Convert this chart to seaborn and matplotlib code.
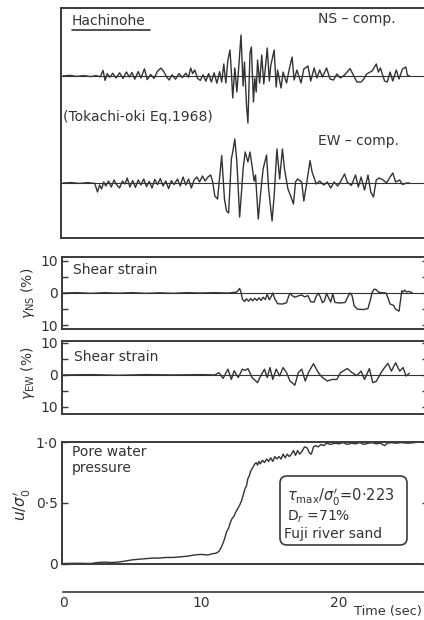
import numpy as np
import matplotlib
matplotlib.use("Agg")
import matplotlib.pyplot as plt
import seaborn as sns
from matplotlib.lines import Line2D
from matplotlib.patches import FancyBboxPatch
from matplotlib.transforms import IdentityTransform

# ---------------- data ----------------
# Hachinohe record, Tokachi-oki earthquake 1968 (acceleration, gal)
ns_t = [0.0, 0.5, 1.0, 1.5, 2.0, 2.4, 2.7, 2.9, 3.05, 3.2, 3.4, 3.6, 3.85, 4.1, 4.35, 4.6,
        4.8, 5.0, 5.2, 5.45, 5.65, 5.9, 6.1, 6.35, 6.6, 6.85, 7.1, 7.3, 7.5, 7.7, 7.9, 8.15,
        8.4, 8.65, 8.9, 9.1, 9.25, 9.4, 9.55, 9.75, 9.95, 10.15, 10.35, 10.55, 10.75, 10.95,
        11.15, 11.35, 11.5, 11.65, 11.8, 11.95, 12.1, 12.2, 12.3, 12.45, 12.6, 12.75, 12.9,
        13.05, 13.15, 13.3, 13.4, 13.55, 13.65, 13.8, 13.9, 14.0, 14.1, 14.25, 14.4, 14.55,
        14.8, 14.95, 15.05, 15.3, 15.45, 15.55, 15.8, 15.95, 16.2, 16.4, 16.6, 16.75, 16.95,
        17.25, 17.45, 17.75, 17.95, 18.2, 18.4, 18.6, 18.8, 19.1, 19.35, 19.6, 19.85, 20.1,
        20.4, 20.8, 21.0, 21.3, 21.6, 21.8, 22.0, 22.4, 22.7, 22.85, 23.0, 23.3, 23.5, 23.7,
        23.9, 24.15, 24.35, 24.6, 24.85, 24.95, 25.1]
ns_acc = [0, 3, -2, 2, -3, 2, -4, 28, -22, 12, -6, 14, -10, 16, -12, 20,
          -5, 18, -16, 22, -10, 36, -18, 8, -12, 24, 40, 22, -4, -20, 6, -16,
          12, -8, 14, -6, 40, 12, 30, -12, -22, 6, -26, 12, -30, 16,
          -36, 22, -30, 60, -35, 80, 130, 20, -110, 40, -80, 60, 205,
          -50, 70, -150, -235, 115, 145, -130, -10, -80, 80, -35, 105, -40,
          140, -25, 50, 130, -55, 30, -60, 20, -35, 35, 95, -20, 30,
          -35, 35, 50, -25, 40, -10, 30, -5, 40, -15, -20, 10, -10,
          5, 37, 10, -30, -30, -15, 10, 25, 60, 20, 40, -25, -30, 20,
          -25, 30, -15, 35, 45, 5, 0]

ew_t = [0.0, 0.6, 1.2, 1.8, 2.3, 2.5, 2.65, 2.8, 2.95, 3.1, 3.3, 3.5, 3.7, 3.9, 4.1, 4.3,
        4.5, 4.65, 4.85, 5.05, 5.25, 5.45, 5.65, 5.85, 6.05, 6.25, 6.45, 6.65, 6.85, 7.05,
        7.25, 7.45, 7.65, 7.85, 8.05, 8.3, 8.5, 8.7, 8.9, 9.1, 9.3, 9.5, 9.7, 9.9, 10.1,
        10.3, 10.5, 10.7, 10.85, 11.0, 11.2, 11.5, 11.7, 11.85, 12.0, 12.2, 12.3, 12.45,
        12.6, 12.8, 12.95, 13.05, 13.2, 13.4, 13.55, 13.7, 13.85, 13.95, 14.15, 14.3, 14.5,
        14.75, 14.9, 15.15, 15.3, 15.5, 15.7, 15.9, 16.05, 16.3, 16.5, 16.7, 16.85, 17.0,
        17.3, 17.45, 17.65, 17.9, 18.05, 18.35, 18.6, 18.9, 19.15, 19.4, 19.65, 19.9, 20.1,
        20.4, 20.6, 20.9, 21.2, 21.4, 21.6, 21.85, 22.1, 22.3, 22.5, 22.7, 22.9, 23.2,
        23.45, 23.7, 23.9, 24.1, 24.4, 24.6, 24.9, 25.1]
ew_acc = [0, 2, -2, 2, -2, -45, -10, -30, 5, -15, 10, -20, 15, -10, -25, 10,
          -5, 25, -20, 12, -22, 15, -10, 20, -18, 8, -25, 18, -8, 22,
          -15, 10, -28, 12, -8, 20, -15, 30, -10, 20, -25, 15, 30, 5, 35,
          10, 30, 40, 5, -65, -80, 137, -80, -140, -150, 120, 155, 220,
          105, -170, -30, 70, 155, 105, 155, 85, 10, 40, -180, -65, 70,
          140, -30, -190, -65, 170, 20, 170, 70, -30, -65, -105, 5, 20,
          5, -90, -5, 112, 55, -5, 10, -10, 5, -25, 5, -15, 5,
          45, 5, -12, 40, -20, 30, -35, 40, -45, -70, 15, 25, 15,
          0, 30, 50, 5, 15, -8, 0, 0]

# Shear strain, NS and EW (%)
gns_t = [0.0, 1.0, 2.0, 3.0, 4.0, 5.0, 6.0, 7.0, 8.0, 9.0, 10.0, 11.0, 12.0, 12.6, 12.8,
         12.9, 13.0, 13.15, 13.3, 13.45, 13.6, 13.75, 13.9, 14.05, 14.2, 14.35, 14.5, 14.65,
         14.8, 14.95, 15.1, 15.2, 15.35, 15.55, 15.9, 16.2, 16.35, 16.45, 16.6, 16.8, 17.05,
         17.3, 17.5, 17.75, 17.95, 18.2, 18.35, 18.5, 18.65, 18.8, 18.95, 19.1, 19.25, 19.4,
         19.55, 19.7, 20.1, 20.45, 20.65, 20.8, 20.95, 21.1, 21.35, 21.8, 22.1, 22.25, 22.4,
         22.55, 22.7, 22.85, 23.1, 23.4, 23.55, 23.7, 23.95, 24.1, 24.35, 24.45, 24.55,
         24.65, 24.75, 24.9, 25.05, 25.3]
gns = [0.0, 0.1, -0.1, 0.1, -0.05, 0.1, -0.1, 0.05, -0.1, 0.1, 0.0, 0.1, 0.0, 0.3, 1.4,
       0.2, -1.9, -2.6, -1.8, -2.5, -1.7, -2.4, -1.6, -2.3, -1.5, -2.3, -1.3, -2.0,
       -0.4, -2.1, -1.0, 0.0, -1.8, -3.3, -3.4, -3.0, -1.0, -0.1, -0.8, -1.3, -0.9,
       -0.6, -1.2, -0.8, -2.7, -2.8, -1.0, -0.1, -1.2, -3.0, -2.4, -0.1, -1.5, -2.8,
       -0.2, -2.9, -3.1, -2.9, -1.0, 0.0, -0.8, -4.0, -5.0, -5.1, -4.8, -2.5, 0.2,
       1.2, 1.0, 0.3, 0.1, 0.0, -1.5, -3.4, -3.8, -5.0, -5.6, -2.5, 0.7,
       0.3, 0.9, 0.3, 0.5, 0.1]

gew_t = [0.0, 2.0, 4.0, 6.0, 8.0, 10.0, 11.0, 11.3, 11.6, 11.95, 12.2, 12.4, 12.7, 13.0,
         13.2, 13.4, 13.7, 14.1, 14.3, 14.6, 14.8, 15.0, 15.2, 15.45, 15.7, 15.95, 16.2,
         16.45, 16.8, 17.05, 17.3, 17.55, 17.8, 18.15, 18.5, 18.8, 19.15, 19.5, 19.85,
         20.1, 20.6, 20.95, 21.3, 21.6, 21.85, 22.2, 22.45, 22.7, 23.05, 23.3, 23.55,
         23.8, 24.1, 24.4, 24.65, 24.85, 25.1]
gew = [0.0, 0.1, -0.1, 0.1, 0.0, 0.1, 0.0, 0.7, -1.1, 1.8, -1.4, 1.3, -0.8, 1.8,
       1.4, 2.0, -0.8, -2.4, -0.5, 1.8, -0.8, 2.3, -1.4, 1.8, -0.3, 2.3, 0.7,
       -1.9, -3.2, 0.7, 1.8, -1.9, 0.9, 3.5, 0.7, -0.8, -1.9, -1.4, -1.4,
       0.7, 2.0, 0.7, -0.2, 1.2, -1.4, 2.0, -2.4, -2.0, 0.7, 2.3, 3.6,
       1.2, 3.8, 1.2, 2.3, -0.3, 0.5]

# Excess pore water pressure ratio u / sigma0'
pwp_t = [0.0, 1.0, 2.0, 2.5, 3.0, 3.5, 4.0, 4.5, 5.0, 5.5, 6.0, 6.5, 7.0, 7.5, 8.0, 8.5,
         9.0, 9.5, 10.0, 10.5, 10.8, 11.1, 11.3, 11.5, 11.7, 11.85, 12.0, 12.1, 12.25,
         12.4, 12.5, 12.65, 12.8, 12.95, 13.1, 13.2, 13.3, 13.4, 13.5, 13.6, 13.7, 13.8,
         13.9, 14.0, 14.1, 14.2, 14.3, 14.45, 14.6, 14.75, 14.9, 15.05, 15.2, 15.35, 15.5,
         15.65, 15.8, 15.95, 16.1, 16.25, 16.4, 16.55, 16.7, 16.85, 17.0, 17.15, 17.3,
         17.5, 17.7, 17.85, 18.0, 18.15, 18.3, 18.5, 18.7, 18.9, 19.1, 19.4, 19.7, 20.0,
         20.3, 20.6, 20.9, 21.2, 21.5, 21.8, 22.1, 22.4, 22.7, 23.0, 23.3, 23.5, 23.8,
         24.1, 24.5, 25.0, 25.5]
pwp = [0.0, 0.002, 0.0, 0.008, 0.012, 0.008, 0.012, 0.02, 0.03, 0.035, 0.04, 0.045,
       0.045, 0.05, 0.05, 0.055, 0.06, 0.07, 0.075, 0.07, 0.08, 0.085, 0.10, 0.14,
       0.20, 0.26, 0.29, 0.33, 0.37, 0.39, 0.42, 0.45, 0.48, 0.52, 0.58, 0.62, 0.64,
       0.70, 0.72, 0.76, 0.78, 0.80, 0.82, 0.83, 0.81, 0.84, 0.82, 0.85, 0.83, 0.86,
       0.84, 0.87, 0.84, 0.88, 0.86, 0.88, 0.86, 0.90, 0.87, 0.90, 0.88, 0.90, 0.93,
       0.89, 0.93, 0.90, 0.92, 0.96, 0.95, 0.91, 0.90, 0.96, 0.97, 0.96, 0.98, 0.97,
       0.99, 0.98, 0.99, 0.985, 0.995, 0.98, 0.99, 0.985, 0.995, 0.98, 0.99, 0.995,
       0.985, 0.99, 0.97, 0.99, 0.995, 0.99, 0.995, 0.99, 0.995]

time_ticks = [0, 10, 20]
shear_ticks = [-10, 0, 10]
shear_ticklabels = ["10", "0", "10"]
pwp_ticks = [0.0, 0.5, 1.0]
pwp_ticklabels = ["0", "0·5", "1·0"]

# ---------------- style ----------------
sns.set_style("white")
plt.rcParams["font.family"] = ["DejaVu Sans"]
plt.rcParams["mathtext.fontset"] = "dejavusans"

INK = "#333333"
FRAME = "#3a3a3a"
W, H = 424, 620
PX_PER_S = 13.8          # time scale of the sheet
T0_PX = 63               # x position of t = 0
RIGHT_PX = 428           # panels run off the right edge of the sheet

fig = plt.figure(figsize=(W / 100, H / 100), dpi=100)
fig.patch.set_facecolor("white")


def panel(x0, y0, x1, y1):
    ax = fig.add_axes([x0 / W, 1 - y1 / H, (x1 - x0) / W, (y1 - y0) / H])
    ax.set_xlim((x0 - T0_PX) / PX_PER_S, (x1 - T0_PX) / PX_PER_S)
    for s in ax.spines.values():
        s.set_color(FRAME)
        s.set_linewidth(1.4)
    ax.set_facecolor("none")
    return ax


def ftext(x, y, s, **kw):
    kw.setdefault("fontsize", 10)
    kw.setdefault("color", INK)
    kw.setdefault("va", "center")
    kw.setdefault("ha", "left")
    fig.text(x / W, 1 - y / H, s, **kw)


line_kw = dict(color=INK, linewidth=1.0, estimator=None, sort=False, legend=False)

# ---- acceleration records ----
ax_acc = panel(61, 8, RIGHT_PX, 238)
ax_acc.set_ylim(0, 1150)
ns_base, ew_base = 810, 275
for base, t, a in ((ns_base, ns_t, ns_acc), (ew_base, ew_t, ew_acc)):
    ax_acc.axhline(base, color=INK, linewidth=0.8)
    sns.lineplot(x=t, y=np.asarray(a) + base, ax=ax_acc, **line_kw)
ax_acc.set_xticks([])
ax_acc.set_yticks([])
ax_acc.set_xlabel("")
ax_acc.set_ylabel("")


def strain_panel(y0, y1, ylim, t, g):
    ax = panel(62, y0, RIGHT_PX, y1)
    ax.axhline(0, color=INK, linewidth=0.8)
    sns.lineplot(x=t, y=g, ax=ax, **line_kw)
    ax.set_ylim(*ylim)
    ax.set_xticks([])
    ax.set_yticks(shear_ticks)
    ax.set_yticklabels(shear_ticklabels)
    ax.set_yticks([-5, 5], minor=True)
    ax.tick_params(axis="y", which="both", direction="in", left=True, right=True,
                   length=4, width=1.0, color=FRAME, labelsize=10, labelcolor=INK, pad=3)
    ax.set_xlabel("")
    ax.set_ylabel("")
    return ax


strain_panel(257, 329, (-11.1, 11.1), gns_t, gns)
strain_panel(341, 414, (-12.2, 10.6), gew_t, gew)

# ---- pore water pressure ----
ax_p = panel(62, 442, RIGHT_PX, 564)
sns.lineplot(x=pwp_t, y=pwp, ax=ax_p, **line_kw)
ax_p.set_ylim(-0.004, 1.0)
ax_p.set_xticks([])
ax_p.set_yticks(pwp_ticks)
ax_p.set_yticklabels(pwp_ticklabels)
ax_p.tick_params(axis="y", direction="in", left=True, right=True, length=4, width=1.0,
                 color=FRAME, labelsize=10, labelcolor=INK, pad=3)
ax_p.set_xlabel("")
ax_p.set_ylabel("")

# ---- time axis ----
ax_t = fig.add_axes([T0_PX / W, 1 - 592 / H, (RIGHT_PX - T0_PX) / W, 10 / H])
ax_t.set_xlim(0, (RIGHT_PX - T0_PX) / PX_PER_S)
for k in ("top", "left", "right"):
    ax_t.spines[k].set_visible(False)
ax_t.spines["bottom"].set_color(FRAME)
ax_t.spines["bottom"].set_linewidth(1.2)
ax_t.set_facecolor("none")
ax_t.set_yticks([])
ax_t.set_xticks(time_ticks)
ax_t.set_xticklabels([str(v) for v in time_ticks])
ax_t.set_xticks(np.arange(0, 27, 2), minor=True)
ax_t.tick_params(axis="x", which="major", direction="in", length=5.5, width=1.0,
                 color=FRAME, labelsize=10, labelcolor=INK, pad=3)
ax_t.tick_params(axis="x", which="minor", direction="in", length=4, width=1.0, color=FRAME)

# ---- annotations ----
ftext(72, 21, "Hachinohe")
fig.add_artist(Line2D([72 / W, 150 / W], [1 - 29.5 / H, 1 - 29.5 / H], color=INK, linewidth=1.2))
ftext(318, 19, "NS – comp.")
ftext(63, 117, "(Tokachi-oki Eq.1968)")
ftext(318, 141, "EW – comp.")
ftext(73, 270, "Shear strain")
ftext(74, 357, "Shear strain")
ftext(72, 452, "Pore water")
ftext(72, 468, "pressure")
ftext(354, 612, "Time (sec)", fontsize=9.3)

ftext(28, 293, r"$\gamma_{\rm NS}$ (%)", rotation=90, ha="center")
ftext(28, 373, r"$\gamma_{\rm EW}$ (%)", rotation=90, ha="center")
ftext(22, 505, r"$u/\sigma_0'$", rotation=90, ha="center", fontsize=11)

box = FancyBboxPatch((280, H - 545), 127, 69, boxstyle="round,pad=0,rounding_size=7",
                     transform=IdentityTransform(), facecolor="white",
                     edgecolor=FRAME, linewidth=1.2)
fig.add_artist(box)
ftext(287, 497, r"$\tau_{\rm max}/\sigma_0'$=0·223", fontsize=10.5)
ftext(287, 517, r"D$_r$ =71%")
ftext(284, 534, "Fuji river sand")

fig.savefig("out.png", dpi=100, facecolor="white")
